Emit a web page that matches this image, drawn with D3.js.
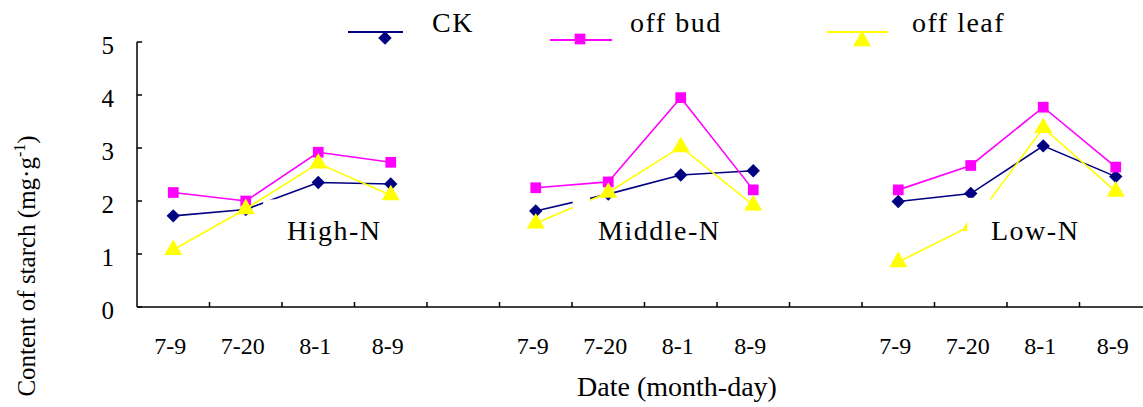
<!DOCTYPE html>
<html>
<head>
<meta charset="utf-8">
<script src="https://cdn.jsdelivr.net/npm/d3@7"></script>
</head>
<body style="margin:0; background:#fff">
<script>
// categories: three nitrogen groups of four dates, with an empty slot between groups
const dates = ["7-9", "7-20", "8-1", "8-9"]
const groups = ["High-N", "Middle-N", "Low-N"]
const yTicks = [0, 1, 2, 3, 4, 5]

// content of starch (mg.g-1), per group, per date
const ckValues = [
  [1.72, 1.84, 2.35, 2.32],
  [1.81, 2.13, 2.49, 2.57],
  [1.99, 2.14, 3.04, 2.46]
]
const offBudValues = [
  [2.16, 2.00, 2.92, 2.73],
  [2.25, 2.36, 3.95, 2.21],
  [2.21, 2.67, 3.77, 2.64]
]
const offLeafValues = [
  [1.08, 1.85, 2.71, 2.11],
  [1.58, 2.16, 3.02, 1.92],
  [0.85, 1.53, 3.38, 2.18]
]

const series = [
  { name: "CK", values: ckValues, color: "#000080", shape: d3.symbolSquare, size: 90, rot: 45 },
  { name: "off bud", values: offBudValues, color: "#ff00ff", shape: d3.symbolSquare, size: 115, rot: 0 },
  { name: "off leaf", values: offLeafValues, color: "#ffff00", shape: d3.symbolTriangle, size: 140, rot: 0 }
]

const width = 1143, height = 407
const FONT = "'Liberation Serif', 'Times New Roman', serif"

let svg = d3.select("body").append("svg")
  .attr("width", width)
  .attr("height", height)
  .attr("font-family", FONT)
  .style("font-family", FONT)

// 14 slots: 4 dates + 1 gap, repeated
let x = d3.scaleLinear().domain([0, 14]).range([137, 1152])
let y = d3.scaleLinear().domain([0, 5]).range([307, 42])

const slot = (g, i) => g * 5 + i + 0.5

// axes
svg.append("line")
  .attr("x1", x(0)).attr("x2", width)
  .attr("y1", y(0)).attr("y2", y(0))
  .attr("stroke", "black").attr("stroke-width", 1.5)
svg.append("line")
  .attr("x1", x(0)).attr("x2", x(0))
  .attr("y1", y(0)).attr("y2", y(5))
  .attr("stroke", "black").attr("stroke-width", 1.5)

svg.selectAll("line.ytick")
  .data(yTicks)
  .enter()
  .append("line")
  .attr("class", "ytick")
  .attr("x1", x(0)).attr("x2", x(0) + 5)
  .attr("y1", d => y(d)).attr("y2", d => y(d))
  .attr("stroke", "black").attr("stroke-width", 1.5)

svg.selectAll("text.ytick")
  .data(yTicks)
  .enter()
  .append("text")
  .attr("class", "ytick")
  .attr("x", 114)
  .attr("y", d => y(d) + 12)
  .attr("text-anchor", "end")
  .style("font-family", FONT)
  .attr("font-size", 25)
  .text(d => d)

svg.selectAll("line.xtick")
  .data(d3.range(1, 14))
  .enter()
  .append("line")
  .attr("class", "xtick")
  .attr("x1", d => x(d)).attr("x2", d => x(d))
  .attr("y1", y(0)).attr("y2", y(0) - 5)
  .attr("stroke", "black").attr("stroke-width", 1.5)

let catLabels = []
groups.forEach((g, gi) => dates.forEach((d, i) => catLabels.push({ label: d, pos: slot(gi, i) })))

svg.selectAll("text.xcat")
  .data(catLabels)
  .enter()
  .append("text")
  .attr("class", "xcat")
  .attr("x", d => x(d.pos) - 3)
  .attr("y", 354)
  .attr("text-anchor", "middle")
  .style("font-family", FONT)
  .attr("font-size", 24)
  .text(d => d.label)

// axis titles
svg.append("text")
  .attr("x", 677)
  .attr("y", 396)
  .attr("text-anchor", "middle")
  .style("font-family", FONT)
  .attr("font-size", 28)
  .text("Date (month-day)")

let yTitle = svg.append("text")
  .attr("transform", "translate(35 266) rotate(-90)")
  .attr("text-anchor", "middle")
  .style("font-family", FONT)
  .attr("font-size", 25)
yTitle.append("tspan").text("Content of starch (mg·g")
yTitle.append("tspan").attr("font-size", 16).attr("dy", -10).text("-1")
yTitle.append("tspan").attr("dy", 10).text(")")

// series lines and markers
let line = d3.line()
  .x(d => x(d.pos))
  .y(d => y(d.v))

series.forEach(s => {
  s.values.forEach((vals, gi) => {
    let pts = vals.map((v, i) => ({ pos: slot(gi, i), v: v }))
    svg.append("path")
      .datum(pts)
      .attr("d", line)
      .attr("fill", "none")
      .attr("stroke", s.color)
      .attr("stroke-width", 1.6)
    svg.selectAll(null)
      .data(pts)
      .enter()
      .append("path")
      .attr("d", d3.symbol().type(s.shape).size(s.size))
      .attr("transform", d => `translate(${x(d.pos)},${y(d.v)}) rotate(${s.rot})`)
      .attr("fill", s.color)
  })
})

// opaque boxes behind the group labels (they cut a bit of the lines)
const labelBoxes = [
  { x0: 1.74, x1: 1.93, y0: 1.6, y1: 2.03 },
  { x0: 6.01, x1: 6.25, y0: 1.4, y1: 2.08 },
  { x0: 11.45, x1: 11.77, y0: 1.3, y1: 2.06 }
]
svg.selectAll("rect.mask")
  .data(labelBoxes)
  .enter()
  .append("rect")
  .attr("class", "mask")
  .attr("x", d => x(d.x0))
  .attr("width", d => x(d.x1) - x(d.x0))
  .attr("y", d => y(d.y1))
  .attr("height", d => y(d.y0) - y(d.y1))
  .attr("fill", "white")

// group labels
const groupLabelX = [287, 598, 991]
svg.selectAll("text.group")
  .data(groups)
  .enter()
  .append("text")
  .attr("class", "group")
  .attr("x", (d, i) => groupLabelX[i])
  .attr("y", 240)
  .style("font-family", FONT)
  .attr("font-size", 28)
  .attr("letter-spacing", 1.5)
  .text(d => d)

// legend
const legendPos = [
  { x1: 348, x2: 403, ly: 32, mx: 385, my: 38, tx: 432 },
  { x1: 550, x2: 612, ly: 40, mx: 580, my: 39, tx: 630 },
  { x1: 827, x2: 888, ly: 32, mx: 862, my: 41, tx: 912 }
]
let legend = svg.selectAll("g.legendEntry")
  .data(series)
  .enter()
  .append("g")
  .attr("class", "legendEntry")

legend.append("line")
  .attr("x1", (d, i) => legendPos[i].x1)
  .attr("x2", (d, i) => legendPos[i].x2)
  .attr("y1", (d, i) => legendPos[i].ly)
  .attr("y2", (d, i) => legendPos[i].ly)
  .attr("stroke", d => d.color)
  .attr("stroke-width", 2)

legend.append("path")
  .attr("d", d => d3.symbol().type(d.shape).size(d.size)())
  .attr("transform", (d, i) => `translate(${legendPos[i].mx},${legendPos[i].my}) rotate(${d.rot})`)
  .attr("fill", d => d.color)

legend.append("text")
  .attr("x", (d, i) => legendPos[i].tx)
  .attr("y", 32)
  .style("font-family", FONT)
  .attr("font-size", 28)
  .attr("letter-spacing", 1.5)
  .text(d => d.name)
</script>
</body>
</html>
